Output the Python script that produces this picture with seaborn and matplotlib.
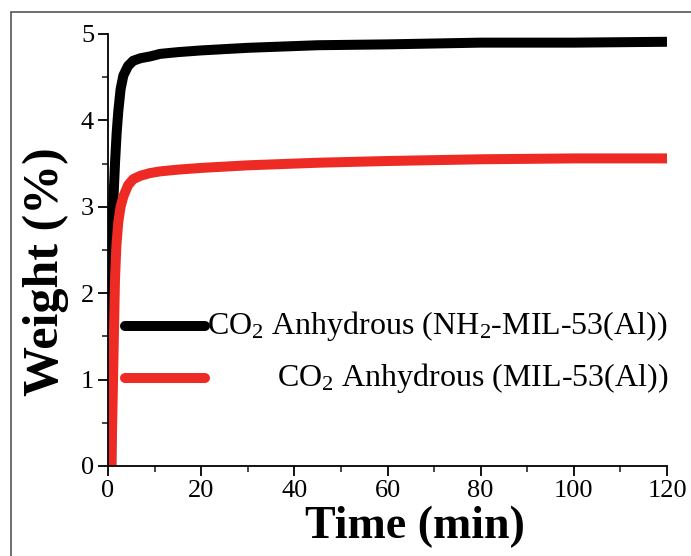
import numpy as np
import pandas as pd
import matplotlib
matplotlib.use("Agg")
import matplotlib.pyplot as plt
from matplotlib.patches import Rectangle
from matplotlib.lines import Line2D
from matplotlib.ticker import MultipleLocator
import seaborn as sns

# CO2 uptake curves (weight % vs time in minutes)
time_nh2 = [0.7, 0.85, 1.1, 1.5, 1.85, 2.2, 2.7, 3.3, 4.3, 5.4, 7, 9, 11.2, 15, 20, 30, 45, 60, 80, 100, 120]
weight_nh2 = [0.0, 2.2, 3.0, 3.5, 3.85, 4.1, 4.36, 4.52, 4.63, 4.69, 4.72, 4.74, 4.77, 4.79, 4.81, 4.84, 4.87, 4.88, 4.9, 4.9, 4.91]

time_mil = [0.7, 0.9, 1.15, 1.5, 1.8, 2.2, 2.7, 3.3, 4.3, 5.4, 7, 9, 11.2, 15, 20, 30, 45, 60, 80, 100, 120]
weight_mil = [0.0, 0.5, 1.19, 2.16, 2.55, 2.82, 3.0, 3.12, 3.25, 3.32, 3.36, 3.39, 3.41, 3.43, 3.45, 3.48, 3.51, 3.53, 3.55, 3.56, 3.56]

series_names = ["NH2-MIL-53(Al)", "MIL-53(Al)"]
legend_labels = [r"CO$_2$ Anhydrous (NH$_2$-MIL-53(Al))", r"CO$_2$ Anhydrous (MIL-53(Al))"]
series_colors = ["#000000", "#ee2a24"]

x_ticks = [0, 20, 40, 60, 80, 100, 120]
y_ticks = [0, 1, 2, 3, 4, 5]

df = pd.concat([
    pd.DataFrame({"Time": time_nh2, "Weight": weight_nh2, "Sample": series_names[0]}),
    pd.DataFrame({"Time": time_mil, "Weight": weight_mil, "Sample": series_names[1]}),
])

sns.set_theme(style="ticks")
plt.rcParams["font.family"] = ["Liberation Serif", "DejaVu Serif"]
plt.rcParams["mathtext.fontset"] = "custom"
plt.rcParams["mathtext.rm"] = "Liberation Serif"
plt.rcParams["mathtext.it"] = "Liberation Serif:italic"
plt.rcParams["mathtext.bf"] = "Liberation Serif:bold"

fig = plt.figure(figsize=(6.91, 5.56), dpi=100)
fig.patch.set_facecolor("white")
# outer frame
fig.patches.append(Rectangle((11 / 691, -0.1), 1.2, (556 - 12) / 556 + 0.1,
                             transform=fig.transFigure, fill=False,
                             edgecolor="#555555", linewidth=1.2))

ax = fig.add_axes([108 / 691, (556 - 466) / 556, (667 - 108) / 691, (466 - 34) / 556])

sns.lineplot(data=df, x="Time", y="Weight", hue="Sample", hue_order=series_names,
             palette=series_colors, linewidth=7.2, legend=False, ax=ax,
             sort=False, estimator=None)
for ln in ax.get_lines():
    ln.set_solid_capstyle("butt")
    ln.set_solid_joinstyle("round")

ax.set_xlim(0, 120)
ax.set_ylim(0, 5)
ax.set_xticks(x_ticks)
ax.set_yticks(y_ticks)
ax.xaxis.set_minor_locator(MultipleLocator(10))
ax.yaxis.set_minor_locator(MultipleLocator(0.5))
ax.tick_params(which="major", direction="out", length=7, width=1.3, labelsize=19,
               colors="black", pad=3)
ax.tick_params(which="minor", direction="out", length=4, width=1.2)
sns.despine(ax=ax)
for s in ["left", "bottom"]:
    ax.spines[s].set_linewidth(1.3)
    ax.spines[s].set_color("black")

ax.set_xlabel("Time (min)", fontsize=33, fontweight="bold", color="black")
ax.set_ylabel("Weight (%)", fontsize=36, fontweight="bold", color="black")
ax.xaxis.set_label_coords(0.549, -0.093)
ax.yaxis.set_label_coords(-0.07, 0.449)

# legend drawn as handle lines with right-aligned labels
handle_y = [(466 - 326) / 432, (466 - 378) / 432]
for yy, col, lab in zip(handle_y, series_colors, legend_labels):
    ax.add_line(Line2D([(125 - 108) / 559, (205 - 108) / 559], [yy, yy],
                       transform=ax.transAxes, color=col, linewidth=7.2,
                       solid_capstyle="round"))
    ax.text((668 - 108) / 559, yy, lab, transform=ax.transAxes, ha="right",
            va="center", fontsize=23, color="black")

fig.savefig("out.png", dpi=100, facecolor="white")
